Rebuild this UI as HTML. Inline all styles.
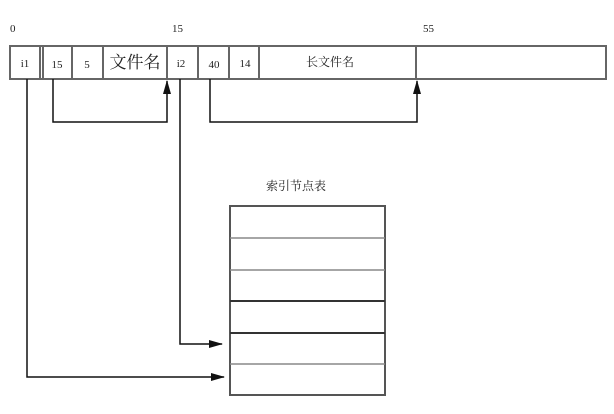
<!DOCTYPE html>
<html><head><meta charset="utf-8"><style>
body{margin:0;background:#fff;width:614px;height:409px;overflow:hidden}
svg text{font-family:"Liberation Serif","Noto Serif CJK SC",serif;fill:#222}
</style></head><body>
<svg width="614" height="409" viewBox="0 0 614 409" xmlns="http://www.w3.org/2000/svg">
<defs><marker id="a" markerWidth="8" markerHeight="8" refX="7" refY="4" orient="auto" markerUnits="userSpaceOnUse"><path d="M0,0 L8,4 L0,8 Z" fill="#111"/></marker>
<marker id="b" markerWidth="14" markerHeight="10" refX="13" refY="5" orient="auto" markerUnits="userSpaceOnUse"><path d="M0,1 L14,5 L0,9 Z" fill="#111"/></marker></defs>
<text x="10" y="32" font-size="11">0</text>
<text x="172" y="32" font-size="11">15</text>
<text x="423" y="32" font-size="11">55</text>
<rect x="10" y="46" width="596" height="33" fill="none" stroke="#666" stroke-width="2"/>
<g stroke="#666" stroke-width="2">
<line x1="40" y1="46" x2="40" y2="79"/><line x1="43" y1="46" x2="43" y2="79"/>
<line x1="72" y1="46" x2="72" y2="79"/><line x1="103" y1="46" x2="103" y2="79"/>
<line x1="167" y1="46" x2="167" y2="79"/><line x1="198" y1="46" x2="198" y2="79"/>
<line x1="229" y1="46" x2="229" y2="79"/><line x1="259" y1="46" x2="259" y2="79"/>
<line x1="416" y1="46" x2="416" y2="79"/></g>
<g font-size="11" text-anchor="middle">
<text x="25" y="67">i1</text><text x="57" y="68">15</text><text x="87" y="68">5</text>
<text x="135" y="68" font-size="17" font-family="'Noto Sans CJK SC',sans-serif">文件名</text>
<text x="181" y="67">i2</text><text x="214" y="68">40</text><text x="245" y="67">14</text>
<text x="330" y="66" font-size="12">长文件名</text></g>
<g fill="none" stroke="#111" stroke-width="1.5">
<path d="M53,79 V122 H167 V81" marker-end="url(#b)"/>
<path d="M210,79 V122 H417 V81" marker-end="url(#b)"/>
<path d="M180,79 V344 H222" marker-end="url(#b)"/>
<path d="M27,79 V377 H224" marker-end="url(#b)"/></g>
<text x="296" y="190" font-size="12" text-anchor="middle" font-family="'Noto Sans CJK SC',sans-serif">索引节点表</text>
<rect x="230" y="206" width="155" height="189" fill="none" stroke="#555" stroke-width="2"/>
<g stroke="#888" stroke-width="1.5">
<line x1="230" y1="238" x2="385" y2="238"/><line x1="230" y1="270" x2="385" y2="270"/>
<line x1="230" y1="364" x2="385" y2="364"/></g>
<g stroke="#333" stroke-width="2">
<line x1="230" y1="301" x2="385" y2="301"/><line x1="230" y1="333" x2="385" y2="333"/></g>
</svg></body></html>
